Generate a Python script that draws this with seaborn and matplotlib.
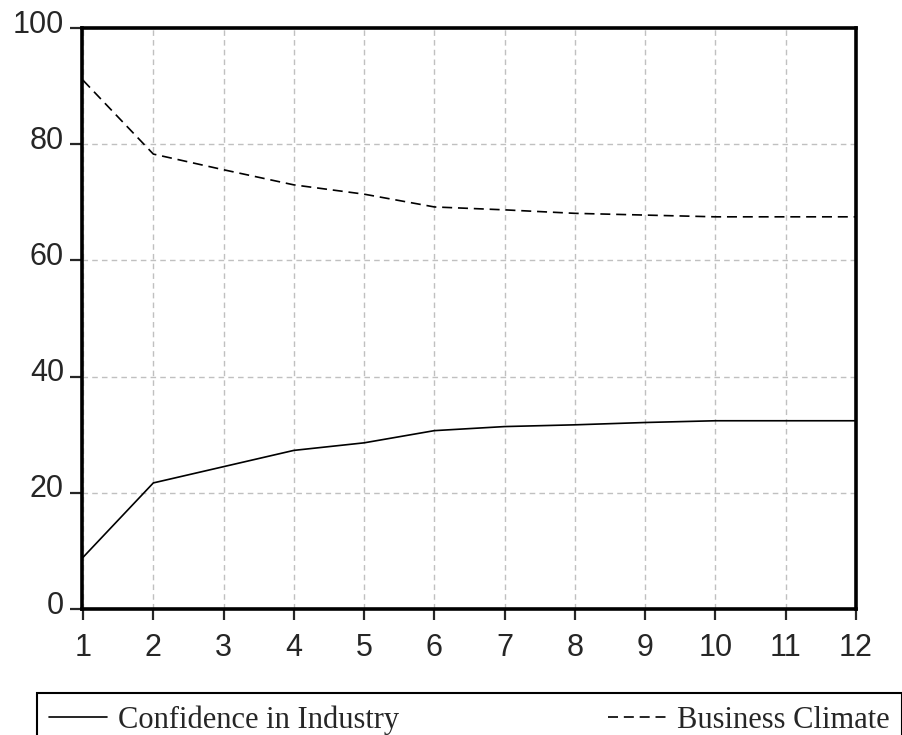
import numpy as np
import pandas as pd
import matplotlib
matplotlib.use("Agg")
import matplotlib.pyplot as plt
import matplotlib.transforms as mtransforms
import seaborn as sns

periods = list(range(1, 13))
confidence = [8.9, 21.7, 24.5, 27.3, 28.6, 30.7, 31.4, 31.7, 32.1, 32.4, 32.4, 32.4]
business = [91.0, 78.3, 75.6, 73.0, 71.4, 69.2, 68.7, 68.1, 67.8, 67.5, 67.5, 67.5]
series_names = ["Confidence in Industry", "Business Climate"]
y_ticks = [0, 20, 40, 60, 80, 100]

df = pd.DataFrame({
    "period": periods * 2,
    "value": confidence + business,
    "series": [series_names[0]] * 12 + [series_names[1]] * 12,
})

sns.set_style("white")
plt.rcParams["font.family"] = ["Liberation Sans", "DejaVu Sans"]

fig = plt.figure(figsize=(9.03, 7.35), dpi=100)
ax = fig.add_axes([82 / 903, 1 - 609 / 735, (856 - 82) / 903, (609 - 28) / 735])

sns.lineplot(data=df, x="period", y="value", style="series", ax=ax,
             color="black", linewidth=1.2, legend=False,
             dashes={series_names[0]: "", series_names[1]: (6, 3.5)})

ax.set_xlim(0.985, 12.0)
ax.set_ylim(0, 100)
ax.set_xticks(periods)
ax.set_yticks(y_ticks)
ax.set_xlabel("")
ax.set_ylabel("")

ax.grid(True, color="#c0c0c0", linestyle=(0, (4, 3)), linewidth=1.0)
ax.set_axisbelow(True)

for sp in ax.spines.values():
    sp.set_visible(True)
    sp.set_color("black")
    sp.set_linewidth(2.6)

ax.tick_params(axis="y", direction="out", length=9, width=1.6, pad=4,
               labelsize=22, left=True)
ax.tick_params(axis="x", direction="out", length=8, width=1.6, pad=9,
               labelsize=22, bottom=True)

# y labels sit a little above their ticks
shift = mtransforms.ScaledTranslation(0, 7 / 100, fig.dpi_scale_trans)
for lab in ax.get_yticklabels():
    lab.set_transform(lab.get_transform() + shift)

handles = ax.get_lines()[:2]
leg = fig.legend(handles, series_names, loc="upper left",
                 bbox_to_anchor=(37 / 903, 0, (902 - 37) / 903, 1 - 693 / 735),
                 mode="expand", ncol=2, prop={"family": "Liberation Serif", "size": 22},
                 handlelength=1.9, handletextpad=0.35, borderpad=0.4,
                 borderaxespad=0, frameon=True, fancybox=False, framealpha=1)
leg.get_frame().set_edgecolor("black")
leg.get_frame().set_linewidth(1.5)

fig.savefig("out.png", dpi=100)
